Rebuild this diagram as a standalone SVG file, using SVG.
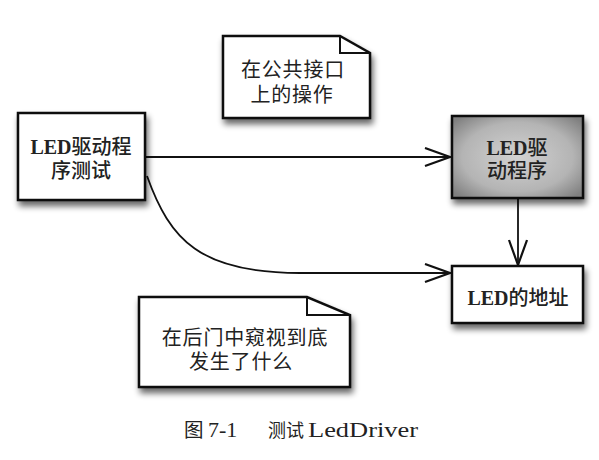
<svg xmlns="http://www.w3.org/2000/svg" width="599" height="460" viewBox="0 0 599 460">
<style>
.box{fill:#fff;stroke:#111;stroke-width:2.5;filter:url(#sh)}
.fold{fill:none;stroke:#111;stroke-width:2}
.conn{fill:none;stroke:#111;stroke-width:1.8}
.bt{font-family:"Liberation Serif","Noto Sans CJK SC",serif;font-size:20px;fill:#222;text-anchor:middle}
.lat{font-weight:bold}
.cj{font-weight:500}
.nt{font-family:"Liberation Sans","Noto Sans CJK SC",sans-serif;font-size:20px;fill:#222;text-anchor:middle;letter-spacing:0.8px}
.cap{font-family:"Liberation Serif","Noto Sans CJK SC",serif;font-size:22px;fill:#222}
</style>
<defs>
<filter id="sh" x="-20%" y="-20%" width="150%" height="160%">
<feGaussianBlur in="SourceAlpha" stdDeviation="3"/>
<feOffset dx="2" dy="5" result="b"/>
<feComponentTransfer><feFuncA type="linear" slope="0.6"/></feComponentTransfer>
<feMerge><feMergeNode/><feMergeNode in="SourceGraphic"/></feMerge>
</filter>
<radialGradient id="g" cx="50%" cy="50%" r="65%">
<stop offset="0" stop-color="#d2d2d2"/>
<stop offset="0.65" stop-color="#b4b4b4"/>
<stop offset="1" stop-color="#808080"/>
</radialGradient>
<marker id="ah" markerUnits="userSpaceOnUse" markerWidth="30" markerHeight="22" viewBox="0 0 30 22" refX="26" refY="10" orient="auto">
<path d="M1,1 L26,10 L1,19" fill="none" stroke="#111" stroke-width="2.2"/>
</marker>
</defs>
<rect width="599" height="460" fill="#fff"/>
<g id="connectors">
<path class="conn" d="M146,157 H450" marker-end="url(#ah)"/>
<path class="conn" d="M147,176 C170,240 200,273 300,273 H450" marker-end="url(#ah)"/>
<path class="conn" d="M518,199 V265" marker-end="url(#ah)"/>
</g>
<g id="test">
<rect class="box" x="18" y="113" width="127" height="87"/>
<text class="bt" x="81" y="154"><tspan class="lat">LED</tspan><tspan class="cj">驱动程</tspan></text>
<text class="bt" x="81" y="178"><tspan class="cj">序测试</tspan></text>
</g>
<g id="note-public">
<path class="box" d="M223,36 H340 L370,53 V118 H223 Z"/>
<path class="fold" d="M340,36 V53 H370"/>
<text class="nt" x="293" y="77">在公共接口</text>
<text class="nt" x="292" y="102">上的操作</text>
</g>
<g id="driver">
<rect class="box" x="452" y="116" width="131" height="82" style="fill:url(#g)"/>
<text class="bt" x="517" y="155"><tspan class="lat">LED</tspan><tspan class="cj">驱</tspan></text>
<text class="bt" x="517" y="178"><tspan class="cj">动程序</tspan></text>
</g>
<g id="address">
<rect class="box" x="452" y="266" width="131" height="57"/>
<text class="bt" x="518" y="305"><tspan class="lat">LED</tspan><tspan class="cj">的地址</tspan></text>
</g>
<g id="note-backdoor">
<path class="box" d="M139,297 H307 L350,315 V387 H139 Z"/>
<path class="fold" d="M307,297 V315 H350"/>
<text class="nt" x="245" y="345">在后门中窥视到底</text>
<text class="nt" x="241" y="369">发生了什么</text>
</g>
<g id="caption">
<text class="cap" x="184" y="437" style="font-size:19.5px">图</text>
<text class="cap" x="208" y="437">7-1</text>
<text class="cap" x="268" y="437" style="font-size:18px">测试</text>
<text class="cap" x="308" y="437" textLength="110" lengthAdjust="spacingAndGlyphs">LedDriver</text>
</g>
</svg>
